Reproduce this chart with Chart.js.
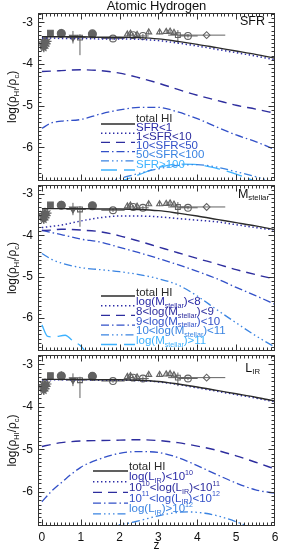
<!DOCTYPE html>
<html>
<head>
<meta charset="utf-8">
<script src="https://cdn.jsdelivr.net/npm/chart.js@4.4.1/dist/chart.umd.min.js"></script>
<style>
body { margin: 0; background: #fff; width: 290px; height: 552px; overflow: hidden; position: relative; }
canvas { position: absolute; left: 0; }
</style>
</head>
<body>
<canvas id="c1" width="290" height="186" style="top:0;width:290px;height:186px"></canvas>
<canvas id="c2" width="290" height="176" style="top:180px;width:290px;height:176px"></canvas>
<canvas id="c3" width="290" height="202" style="top:350px;width:290px;height:202px"></canvas>
<script>
// redshift grid for the model curves
var zGrid = [0, 0.25, 0.5, 1, 1.5, 2, 2.5, 3, 3.5, 4, 4.5, 5, 5.5, 6];
var xTicks = [0, 1, 2, 3, 4, 5, 6];
var yTicks = [-6, -5, -4, -3];

var totalHI = [-3.35, -3.35, -3.35, -3.35, -3.36, -3.36, -3.37, -3.40, -3.46, -3.53, -3.61, -3.69, -3.77, -3.86];

// panel 1: SFR
var sfrLt1    = [-3.38, -3.38, -3.39, -3.39, -3.40, -3.40, -3.41, -3.44, -3.50, -3.57, -3.65, -3.73, -3.81, -3.90];
var sfr1to10  = [-4.18, -4.17, -4.16, -4.14, -4.16, -4.22, -4.33, -4.46, -4.61, -4.75, -4.87, -4.99, -5.08, -5.18];
var sfr10to50 = [-5.54, -5.41, -5.37, -5.33, -5.20, -5.10, -5.04, -5.04, -5.15, -5.31, -5.51, -5.70, -5.86, -6.05];
var sfr50Z    = [1.5, 2.0, 2.5, 3.0, 3.5, 4.0, 4.5, 5.0, 5.5, 6.0];
var sfr50to100 = [-6.86, -6.74, -6.62, -6.51, -6.43, -6.41, -6.47, -6.58, -6.70, -6.84];
var sfr100Z   = [1.9, 2.5, 3.0, 3.5, 4.0, 4.5, 5.0, 5.5, 5.7];
var sfrGt100  = [-6.86, -6.65, -6.48, -6.40, -6.41, -6.50, -6.64, -6.81, -6.88];

// panel 2: M_stellar
var mLt8     = [-3.81, -3.78, -3.75, -3.65, -3.57, -3.53, -3.53, -3.55, -3.59, -3.63, -3.67, -3.74, -3.81, -3.87];
var m8to9    = [-3.88, -3.87, -3.85, -3.87, -3.91, -4.01, -4.14, -4.28, -4.42, -4.56, -4.69, -4.83, -4.95, -5.06];
var m9to10   = [-3.88, -3.93, -3.98, -4.09, -4.16, -4.29, -4.42, -4.56, -4.71, -4.87, -5.05, -5.26, -5.46, -5.67];
var m10to11  = [-4.44, -4.58, -4.67, -4.78, -4.83, -4.88, -4.95, -5.05, -5.20, -5.47, -5.80, -6.12, -6.43, -6.71];
var mGt11Z   = [0, 0.15, 0.3, 0.6, 0.8, 1.0, 1.15];
var mGt11    = [-6.17, -6.45, -6.46, -6.42, -6.56, -6.68, -6.86];

// panel 3: L_IR
var lLt10    = [-3.36, -3.36, -3.36, -3.36, -3.37, -3.37, -3.38, -3.41, -3.47, -3.55, -3.63, -3.71, -3.79, -3.88];
var l10to11  = [-4.93, -4.88, -4.84, -4.80, -4.79, -4.78, -4.77, -4.79, -4.84, -4.92, -5.02, -5.15, -5.30, -5.46];
var l11to12  = [-6.23, -5.98, -5.78, -5.42, -5.22, -5.09, -5.05, -5.07, -5.19, -5.38, -5.59, -5.79, -5.95, -6.03];
var lGt12Z   = [1.7, 2.4, 3.0, 3.5, 3.8, 4.2, 4.6, 5.0, 5.4];
var lGt12    = [-6.82, -6.70, -6.56, -6.48, -6.47, -6.50, -6.58, -6.70, -6.84];

// observations (same in every panel); errors are [down, up] and [left, right]
var starZ = [0.00, 0.02, 0.04, 0.06, 0.08, 0.10, 0.12, 0.15, 0.05];
var starV = [-3.55, -3.47, -3.60, -3.50, -3.42, -3.57, -3.52, -3.46, -3.63];
var starEy = [[0.07,0.07],[0.07,0.07],[0.07,0.07],[0.07,0.07],[0.07,0.07],[0.07,0.07],[0.07,0.07],[0.07,0.07],[0.07,0.07]];
var fSquareZ = [0.22], fSquareV = [-3.26], fSquareEy = [[0.08, 0.05]];
var fCircleZ = [0.5, 1.3], fCircleV = [-3.27, -3.28], fCircleEy = [[0.06, 0.11], [0.06, 0.06]];
var fTriZ = [0.8], fTriV = [-3.36], fTriEy = [[0.15, 0.15]];
var oSquareZ = [0.98, 3.5], oSquareV = [-3.37, -3.31], oSquareEy = [[0.42, 0.08], [0.2, 0.12]], oSquareEx = [[0.35, 0.15], [0.25, 0.3]];
var oCircleZ = [1.83, 2.35, 2.6, 3.76], oCircleV = [-3.39, -3.31, -3.33, -3.33];
var oCircleEy = [[0.04,0.04],[0.05,0.05],[0.05,0.05],[0.04,0.04]], oCircleEx = [[0.3,0.3],[0,0],[0.15,0.15],[0.25,0.25]];
var oTriZ = [2.2, 2.28, 2.45, 2.75, 3.03, 3.2, 3.3, 3.4], oTriV = [-3.29, -3.27, -3.3, -3.24, -3.24, -3.23, -3.22, -3.25];
var oTriEy = [[0.05,0.05],[0.05,0.05],[0.05,0.05],[0.05,0.05],[0.05,0.05],[0.05,0.05],[0.05,0.05],[0.05,0.05]];
var diamondZ = [4.24], diamondV = [-3.31], diamondEx = [[0.69, 0.48]];

var FONT = "'Liberation Sans', Arial, sans-serif";
var obsColor = '#626262';

var styles = {
    solid:    { color: '#2b2b2b', dash: [], width: 1.4 },
    dot:      { color: '#2a2aa6', dash: [1.4, 2.6], width: 1.5 },
    dash:     { color: '#2d2d9e', dash: [9, 6], width: 1.4 },
    dashDot:  { color: '#3250c8', dash: [8, 3, 1.5, 3], width: 1.3 },
    dash3Dot: { color: '#3a84e2', dash: [8, 3, 1.5, 3, 1.5, 3, 1.5, 3], width: 1.3 },
    longDash: { color: '#3db2ff', dash: [16, 7], width: 1.3 }
};

function pts(xs, ys) {
    return xs.map(function(x, i) { return { x: x, y: ys[i] }; });
}

function curve(label, xs, ys, st) {
    var s = styles[st];
    return {
        label: label, data: pts(xs, ys), showLine: true, borderColor: s.color,
        borderWidth: s.width, borderDash: s.dash, pointRadius: 0,
        cubicInterpolationMode: 'monotone', fill: false, styleKey: st
    };
}

function obs(xs, ys, style, filled, ey, ex, rot) {
    var r = style === 'star' ? 3.8 : (filled ? 4 : 3.4);
    return {
        data: pts(xs, ys), pointStyle: style, pointRadius: r,
        pointRotation: rot || 0, pointBorderWidth: 1.1,
        borderColor: obsColor, backgroundColor: filled ? obsColor : 'rgba(0,0,0,0)',
        errY: ey, errX: ex, showLine: false
    };
}

function obsSets() {
    return [
        obs(starZ, starV, 'star', false, starEy),
        obs(fSquareZ, fSquareV, 'rect', true, fSquareEy),
        obs(fCircleZ, fCircleV, 'circle', true, fCircleEy),
        obs(fTriZ, fTriV, 'triangle', true, fTriEy, null, 180),
        obs(oSquareZ, oSquareV, 'rect', false, oSquareEy, oSquareEx),
        obs(oCircleZ, oCircleV, 'circle', false, oCircleEy, oCircleEx),
        obs(oTriZ, oTriV, 'triangle', false, oTriEy),
        obs(diamondZ, diamondV, 'rectRot', false, null, diamondEx)
    ];
}

// text with sub (-1) and superscripts (1)
function drawRich(ctx, parts, x, y, size, align, color) {
    var w = 0;
    parts.forEach(function(p) {
        ctx.font = (p[1] ? size * 0.62 : size) + 'px ' + FONT;
        w += ctx.measureText(p[0]).width;
    });
    var cx = align === 'right' ? x - w : (align === 'center' ? x - w / 2 : x);
    ctx.fillStyle = color;
    ctx.textBaseline = 'middle';
    ctx.textAlign = 'left';
    parts.forEach(function(p) {
        var s = p[1] ? size * 0.62 : size;
        ctx.font = s + 'px ' + FONT;
        var dy = p[1] === -1 ? size * 0.34 : (p[1] === 1 ? -size * 0.36 : 0);
        ctx.fillText(p[0], cx, y + dy);
        cx += ctx.measureText(p[0]).width;
    });
}

var yTitle = [['log(ρ', 0], ['HI', -1], ['/ρ', 0], ['c', -1], [')', 0]];

var errorBars = {
    id: 'errorBars',
    beforeDatasetsDraw: function(chart) {
        var ctx = chart.ctx, a = chart.chartArea, xs = chart.scales.x, ys = chart.scales.y;
        ctx.save();
        ctx.beginPath();
        ctx.rect(a.left, a.top, a.right - a.left, a.bottom - a.top);
        ctx.clip();
        ctx.strokeStyle = obsColor;
        ctx.lineWidth = 1;
        chart.data.datasets.forEach(function(ds) {
            ds.data.forEach(function(p, i) {
                var px = xs.getPixelForValue(p.x), py = ys.getPixelForValue(p.y);
                ctx.beginPath();
                if (ds.errY) {
                    ctx.moveTo(px, ys.getPixelForValue(p.y - ds.errY[i][0]));
                    ctx.lineTo(px, ys.getPixelForValue(p.y + ds.errY[i][1]));
                }
                if (ds.errX && (ds.errX[i][0] || ds.errX[i][1])) {
                    ctx.moveTo(xs.getPixelForValue(p.x - ds.errX[i][0]), py);
                    ctx.lineTo(xs.getPixelForValue(p.x + ds.errX[i][1]), py);
                }
                ctx.stroke();
            });
        });
        ctx.restore();
    }
};

var frame = {
    id: 'frame',
    afterDraw: function(chart) {
        var ctx = chart.ctx, a = chart.chartArea, xs = chart.scales.x, ys = chart.scales.y;
        var o = chart.options.plugins.frame;
        ctx.save();
        ctx.strokeStyle = '#333';
        ctx.lineWidth = 1;
        var L = Math.round(a.left) + 0.5, R = Math.round(a.right) - 0.5;
        var T = Math.round(a.top) + 0.5, B = Math.round(a.bottom) - 0.5;
        ctx.strokeRect(L, T, R - L, B - T);
        ctx.beginPath();
        for (var i = -1; i <= 60; i++) {
            var v = i / 10;
            var px = Math.round(xs.getPixelForValue(v)) + 0.5;
            if (px <= L || px >= R) continue;
            var len = i % 10 === 0 ? 6 : 3;
            ctx.moveTo(px, B); ctx.lineTo(px, B - len);
            ctx.moveTo(px, T); ctx.lineTo(px, T + len);
        }
        for (var j = -68; j <= -28; j++) {
            var py = Math.round(ys.getPixelForValue(j / 10)) + 0.5;
            if (py <= T || py >= B) continue;
            var ln = j % 10 === 0 ? 6 : 3;
            ctx.moveTo(L, py); ctx.lineTo(L + ln, py);
            ctx.moveTo(R, py); ctx.lineTo(R - ln, py);
        }
        ctx.stroke();

        // axis title
        ctx.save();
        ctx.translate(13, (a.top + a.bottom) / 2);
        ctx.rotate(-Math.PI / 2);
        drawRich(ctx, yTitle, 0, 0, 12, 'center', '#111');
        ctx.restore();

        // panel tag
        drawRich(ctx, o.tag, o.tagX, a.top + o.tagDy, 12.5, 'right', '#111');

        // legend
        var lg = o.legend;
        chart.data.datasets.forEach(function(ds, k) {
            if (!ds.styleKey) return;
            var s = styles[ds.styleKey];
            var ly = lg.y0 + k * lg.dy;
            ctx.save();
            ctx.strokeStyle = s.color;
            ctx.lineWidth = s.width;
            ctx.setLineDash(s.dash);
            ctx.beginPath();
            ctx.moveTo(lg.x0, ly);
            ctx.lineTo(lg.x1, ly);
            ctx.stroke();
            ctx.restore();
            drawRich(ctx, ds.label, lg.tx, ly - lg.textUp, 11.5, 'left', s.color);
        });
        ctx.restore();
    }
};

function makeChart(id, curves, panel) {
    var bottom = panel.showX;
    return new Chart(document.getElementById(id), {
        type: 'scatter',
        data: { datasets: curves.concat(obsSets()) },
        options: {
            responsive: false, animation: false, events: [],
            layout: { padding: { left: 0, right: 15, top: panel.padTop, bottom: bottom ? 0 : 3 } },
            scales: {
                x: {
                    type: 'linear', min: -0.1, max: 6, display: bottom,
                    grid: { display: false, drawTicks: false }, border: { display: false },
                    afterBuildTicks: function(s) { s.ticks = xTicks.map(function(v) { return { value: v }; }); },
                    afterFit: function(s) {
                        s.height = bottom ? 26 : 0;
                        s.paddingLeft = 0; s.paddingRight = 0;
                    },
                    ticks: { padding: 4, color: '#111', font: { size: 12, family: FONT }, maxRotation: 0 },
                    title: { display: true, text: 'z', color: '#111', padding: 0, font: { size: 12, family: FONT, lineHeight: 1 } }
                },
                y: {
                    type: 'linear', min: -6.8, max: -2.78,
                    grid: { display: false, drawTicks: false }, border: { display: false },
                    afterBuildTicks: function(s) { s.ticks = yTicks.map(function(v) { return { value: v }; }); },
                    afterFit: function(s) {
                        s.width = 38;
                        s.paddingTop = 0; s.paddingBottom = 0;
                    },
                    ticks: { padding: 5, color: '#111', font: { size: 12, family: FONT } }
                }
            },
            plugins: {
                legend: { display: false },
                tooltip: { enabled: false },
                title: {
                    display: !!panel.title, text: panel.title || '', fullSize: false,
                    color: '#111', padding: 0, font: { size: 13, family: FONT, weight: 'normal', lineHeight: 1 }
                },
                frame: panel
            }
        },
        plugins: [errorBars, frame]
    });
}

makeChart('c1', [
    curve([['total HI', 0]], zGrid, totalHI, 'solid'),
    curve([['SFR<1', 0]], zGrid, sfrLt1, 'dot'),
    curve([['1<SFR<10', 0]], zGrid, sfr1to10, 'dash'),
    curve([['10<SFR<50', 0]], zGrid, sfr10to50, 'dashDot'),
    curve([['50<SFR<100', 0]], sfr50Z, sfr50to100, 'dash3Dot'),
    curve([['SFR>100', 0]], sfr100Z, sfrGt100, 'longDash')
], {
    title: 'Atomic Hydrogen', padTop: 0, showX: false,
    tag: [['SFR', 0]], tagX: 265, tagDy: 9,
    legend: { x0: 101, x1: 135, tx: 136, y0: 124, dy: 9.2, textUp: 5.5 }
});

makeChart('c2', [
    curve([['total HI', 0]], zGrid, totalHI, 'solid'),
    curve([['log(M', 0], ['stellar', -1], [')<8', 0]], zGrid, mLt8, 'dot'),
    curve([['8<log(M', 0], ['stellar', -1], [')<9', 0]], zGrid, m8to9, 'dash'),
    curve([['9<log(M', 0], ['stellar', -1], [')<10', 0]], zGrid, m9to10, 'dashDot'),
    curve([['10<log(M', 0], ['stellar', -1], [')<11', 0]], zGrid, m10to11, 'dash3Dot'),
    curve([['log(M', 0], ['stellar', -1], [')>11', 0]], mGt11Z, mGt11, 'longDash')
], {
    padTop: 3, showX: false,
    tag: [['M', 0], ['stellar', -1]], tagX: 269, tagDy: 9,
    legend: { x0: 101, x1: 135, tx: 136, y0: 116, dy: 9.7, textUp: 3.5 }
});

makeChart('c3', [
    curve([['total HI', 0]], zGrid, totalHI, 'solid'),
    curve([['log(L', 0], ['IR', -1], [')<10', 0], ['10', 1]], zGrid, lLt10, 'dot'),
    curve([['10', 0], ['10', 1], ['<log(L', 0], ['IR', -1], [')<10', 0], ['11', 1]], zGrid, l10to11, 'dash'),
    curve([['10', 0], ['11', 1], ['<log(L', 0], ['IR', -1], [')<10', 0], ['12', 1]], zGrid, l11to12, 'dashDot'),
    curve([['log(L', 0], ['IR', -1], [')>10', 0], ['12', 1]], lGt12Z, lGt12, 'dash3Dot')
], {
    padTop: 3, showX: true,
    tag: [['L', 0], ['IR', -1]], tagX: 260, tagDy: 13,
    legend: { x0: 93, x1: 128, tx: 129, y0: 121, dy: 10.7, textUp: 4.5 }
});
</script>
</body>
</html>
